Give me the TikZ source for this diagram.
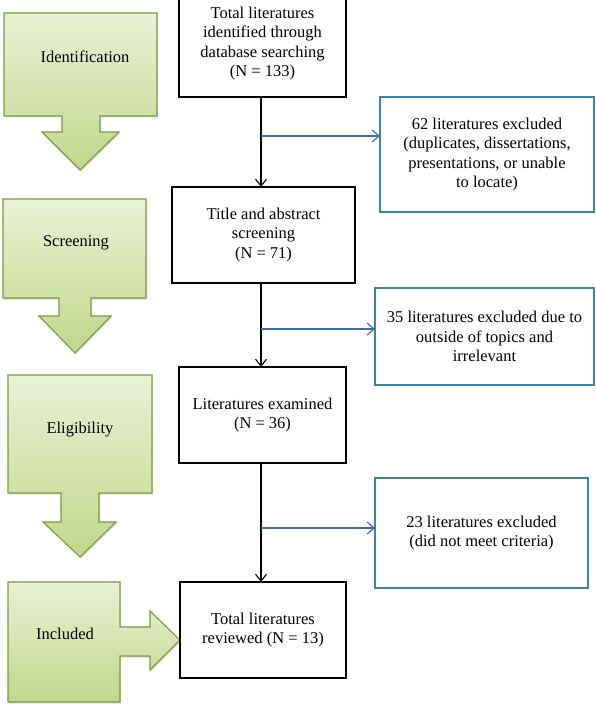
\documentclass[tikz,border=0pt]{standalone}
\usepackage{fontspec}
\setmainfont{Liberation Serif}
\usetikzlibrary{arrows.meta,shadows}
\definecolor{gborder}{HTML}{7A9A3E}
\definecolor{gtop}{HTML}{EAF1D6}
\definecolor{gbot}{HTML}{C0D78A}
\definecolor{bbox}{HTML}{3A86A8}
\definecolor{barrow}{HTML}{4169AF}
\tikzset{
  lbl/.style={font=\fontsize{16.5}{19.5}\selectfont, align=center, inner sep=0pt},
  mainbox/.style={draw=black, line width=1.2pt, fill=white, lbl, minimum width=#1, outer sep=0pt},
  exbox/.style={draw=bbox, line width=1.2pt, fill=white, lbl, minimum width=#1, outer sep=0pt},
  greenshape/.style={draw=gborder, line width=1.1pt, top color=gtop, bottom color=gbot,
     drop shadow={opacity=0.25, shadow xshift=1.2pt, shadow yshift=-1.5pt}},
  flow/.style={draw=black, line width=1.1pt, -{Straight Barb[length=7pt,width=11pt]}},
  side/.style={draw=barrow, line width=1.1pt, -{Straight Barb[length=7pt,width=12pt]}},
}
\begin{document}
\begin{tikzpicture}[x=1pt,y=-1pt]
\clip (0,0) rectangle (595,706);
\fill[white] (0,0) rectangle (595,706);

% green stage arrows
\path[greenshape] (4,13) -- (157,13) -- (157,116) -- (100,116) -- (100,132) -- (119,132) -- (80,170) -- (42,132) -- (62,132) -- (62,116) -- (4,116) -- cycle;
\node[lbl] (gid) at (85,57) {Identification};

\path[greenshape] (3,199) -- (146,199) -- (146,298) -- (91,298) -- (91,316) -- (111,316) -- (75,353) -- (39,316) -- (59,316) -- (59,298) -- (3,298) -- cycle;
\node[lbl] (gsc) at (76,243) {Screening};

\path[greenshape] (8,375) -- (152,375) -- (152,493) -- (99,493) -- (99,522) -- (116,522) -- (80,557) -- (43,522) -- (61,522) -- (61,493) -- (8,493) -- cycle;
\node[lbl] (gel) at (80,430) {Eligibility};

\path[greenshape] (8,582) -- (120,582) -- (120,627) -- (150,627) -- (150,611) -- (180,640) -- (150,670) -- (150,656) -- (120,656) -- (120,702) -- (8,702) -- cycle;
\node[lbl] (gin) at (65,634) {Included};

% main boxes
\node[mainbox=167pt, minimum height=107pt] (b1) at (262.5,43.5) {Total literatures\\identified through\\database searching\\(N = 133)};
\node[mainbox=183pt, minimum height=96pt] (b2) at (263.5,235) {Title and abstract\\screening\\(N = 71)};
\node[mainbox=167pt, minimum height=96pt] (b3) at (262.5,415) {Literatures examined\\(N = 36)};
\node[mainbox=166pt, minimum height=96pt] (b4) at (263,630) {Total literatures\\reviewed (N = 13)};

% exclusion boxes
\node[exbox=214pt, minimum height=115pt] (e1) at (487,154.5) {62 literatures excluded\\(duplicates, dissertations,\\presentations, or unable\\to locate)};
\node[exbox=219pt, minimum height=97pt] (e2) at (484.5,336.5) {35 literatures excluded due to\\outside of topics and\\irrelevant};
\node[exbox=213pt, minimum height=110pt] (e3) at (481.5,533) {23 literatures excluded\\(did not meet criteria)};

% spine
\coordinate (spine) at (261,0);
\coordinate (j1) at (261,136);
\coordinate (j2) at (261,329);
\coordinate (j3) at (261,528);

\draw[flow] (b1.south -| spine) -- (b2.north -| spine);
\draw[flow] (b2.south -| spine) -- (b3.north -| spine);
\draw[flow] (b3.south -| spine) -- (b4.north -| spine);

\draw[side] (j1) -- (j1 -| e1.west);
\draw[side] (j2) -- (j2 -| e2.west);
\draw[side] (j3) -- (j3 -| e3.west);
\end{tikzpicture}
\end{document}
